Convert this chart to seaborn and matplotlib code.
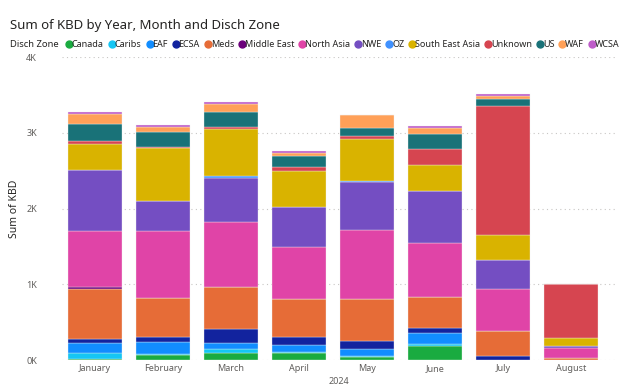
import pandas as pd
import numpy as np
import seaborn as sns
import matplotlib.pyplot as plt
from matplotlib.lines import Line2D

months = ['January', 'February', 'March', 'April', 'May', 'June', 'July', 'August']
zones = ['Canada', 'Caribs', 'EAF', 'ECSA', 'Meds', 'Middle East', 'North Asia',
         'NWE', 'OZ', 'South East Asia', 'Unknown', 'US', 'WAF', 'WCSA']
colors = ['#1AAB40', '#15C6F4', '#118DFF', '#12239E', '#E66C37', '#6B007B', '#E044A7',
          '#744EC2', '#4092FF', '#D9B300', '#D64550', '#197278', '#FFA058', '#BE5DC9']

# KBD per zone, one value per month (Jan..Aug)
canada      = [13, 62, 97, 93, 44, 190, 0, 0]
caribs      = [85, 13, 44, 9, 13, 22, 0, 0]
eaf         = [125, 159, 84, 97, 93, 141, 0, 0]
ecsa        = [60, 66, 181, 102, 106, 66, 57, 0]
meds        = [650, 516, 561, 499, 552, 415, 322, 31]
middle_east = [30, 0, 0, 0, 0, 0, 0, 0]
north_asia  = [745, 892, 852, 689, 909, 711, 556, 132]
nwe         = [795, 397, 587, 534, 631, 693, 384, 22]
oz          = [0, 0, 18, 0, 18, 0, 0, 0]
sea         = [353, 698, 627, 472, 552, 331, 331, 110]
unknown     = [30, 13, 26, 53, 44, 221, 1704, 711]
us          = [225, 194, 199, 150, 97, 194, 88, 0]
waf         = [132, 71, 106, 35, 177, 75, 40, 0]
wcsa        = [30, 22, 31, 31, 0, 31, 31, 0]

series = [canada, caribs, eaf, ecsa, meds, middle_east, north_asia, nwe, oz,
          sea, unknown, us, waf, wcsa]

rows = []
for z, vals in zip(zones, series):
    for m, v in zip(months, vals):
        rows.append({'Month': m, 'Disch Zone': z, 'KBD': v})
df = pd.DataFrame(rows)

plt.rcParams['font.family'] = ['Noto Sans', 'DejaVu Sans']
fig = plt.figure(figsize=(6.38, 3.88), dpi=100)
ax = fig.add_axes([0.097, 0.072, 0.867, 0.781])

# seaborn stacks the last hue at the bottom, so feed the order reversed
sns.histplot(data=df, x='Month', weights='KBD', hue='Disch Zone', hue_order=zones[::-1],
             palette=colors[::-1], multiple='stack', discrete=True, shrink=0.79,
             alpha=1, linewidth=0.25, edgecolor='#F3F2F1', legend=False, ax=ax)

ax.set_ylim(0, 4000)
ax.set_xlim(-0.49, 7.65)
ax.set_yticks([0, 1000, 2000, 3000, 4000])
ax.set_yticklabels(['0K', '1K', '2K', '3K', '4K'])
ax.yaxis.grid(True, linestyle=(0, (1, 3)), color='#C8C6C4', linewidth=0.8)
ax.set_axisbelow(True)
for s in ax.spines.values():
    s.set_visible(False)
ax.tick_params(axis='both', length=0, labelsize=6.5, labelcolor='#605E5C')
ax.tick_params(axis='y', pad=18)
ax.tick_params(axis='x', pad=3)
ax.set_xticks(range(len(months)))
ax.set_xticklabels(months)
ax.set_xlabel('')
ax.set_ylabel('Sum of KBD', fontsize=7.5, color='#252423', labelpad=4)
ax.text(0.5, -0.055, '2024', transform=ax.transAxes, ha='center', va='top',
        fontsize=6.5, color='#605E5C')

fig.text(0.016, 0.935, 'Sum of KBD by Year, Month and Disch Zone', fontsize=9.5,
         color='#252423', va='center')
fig.text(0.016, 0.885, 'Disch Zone', fontsize=6.8, fontweight='bold',
         color='#252423', va='center')
handles = [Line2D([], [], marker='o', linestyle='', markersize=5, color=c) for c in colors]
fig.legend(handles, zones, loc='center left', bbox_to_anchor=(0.1, 0.885), ncol=14,
           frameon=False, fontsize=6.5, handletextpad=-0.3, columnspacing=0.3,
           handlelength=1.2, borderaxespad=0, borderpad=0, labelcolor='#252423')

plt.savefig('out.png', dpi=100)
